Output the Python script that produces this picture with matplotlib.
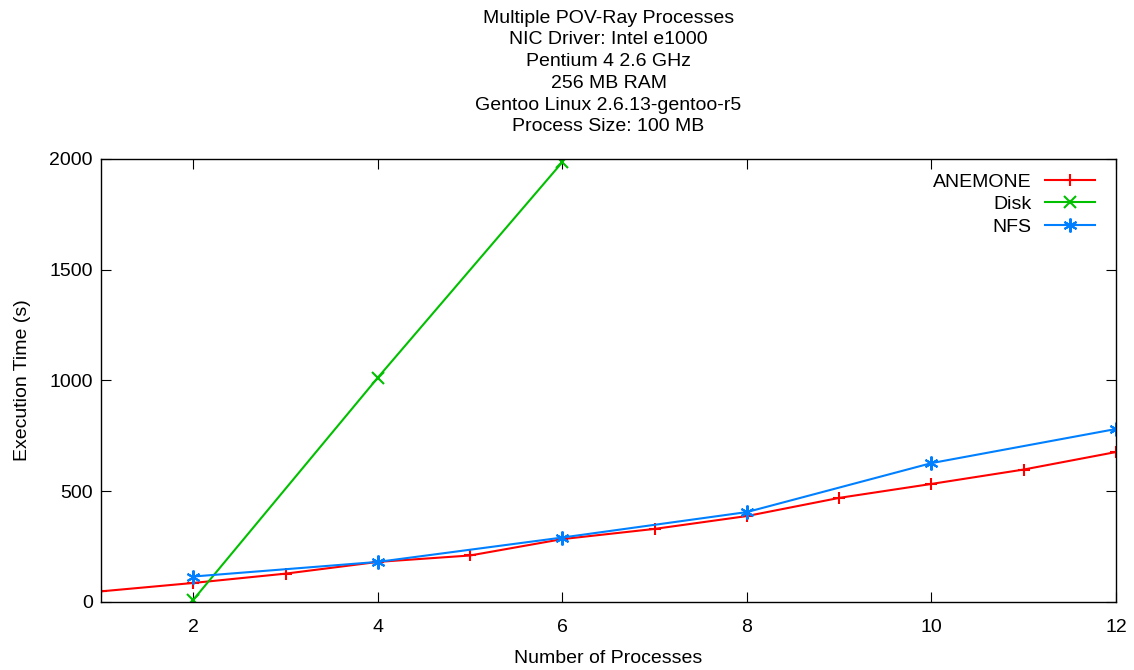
import matplotlib
matplotlib.use("Agg")
import matplotlib.pyplot as plt

plt.rcParams['font.family'] = ['Liberation Sans', 'DejaVu Sans']

procs_anemone = [1, 2, 3, 4, 5, 6, 7, 8, 9, 10, 11, 12]
time_anemone = [48, 86, 128, 181, 210, 284, 330, 388, 470, 533, 598, 677]

procs_disk = [2, 4, 6]
time_disk = [10, 1013, 1986]

procs_nfs = [2, 4, 6, 8, 10, 12]
time_nfs = [115, 181, 291, 406, 627, 781]

title_lines = [
    "Multiple POV-Ray Processes",
    "NIC Driver: Intel e1000",
    "Pentium 4 2.6 GHz",
    "256 MB RAM",
    "Gentoo Linux 2.6.13-gentoo-r5",
    "Process Size: 100 MB",
]

fs = 14

fig = plt.figure(figsize=(11.34, 6.70), dpi=100)
ax = fig.add_axes([0.0891, 0.1015, 0.8950, 0.6612])

ax.plot(procs_anemone, time_anemone, color="#ff0000", lw=1.5, marker="+",
        ms=9, mew=1.5, label="ANEMONE")
ax.plot(procs_disk, time_disk, color="#00c000", lw=1.5, marker="x",
        ms=8, mew=1.5, label="Disk")
ax.plot(procs_nfs, time_nfs, color="#0080ff", lw=1.5, marker=(6, 2, 0),
        ms=10, mew=1.5, label="NFS")

ax.set_xlim(1, 12)
ax.set_ylim(0, 2000)
ax.set_xticks([2, 4, 6, 8, 10, 12])
ax.set_yticks([0, 500, 1000, 1500, 2000])
ax.tick_params(direction="in", top=True, right=True, length=7, labelsize=fs)
ax.tick_params(axis="x", pad=12)
ax.tick_params(axis="y", pad=6)
for s in ax.spines.values():
    s.set_linewidth(1.0)

ax.set_xlabel("Number of Processes", fontsize=fs, labelpad=10)
ax.set_ylabel("Execution Time (s)", fontsize=fs, labelpad=13)
ax.set_title("\n".join(title_lines), fontsize=fs, linespacing=1.36, pad=20)

ax.legend(loc="upper right", bbox_to_anchor=(0.997, 1.008), frameon=False,
          markerfirst=False, fontsize=fs, handlelength=2.6, labelspacing=0.25,
          handletextpad=0.7)

fig.savefig("out.png", dpi=100)
